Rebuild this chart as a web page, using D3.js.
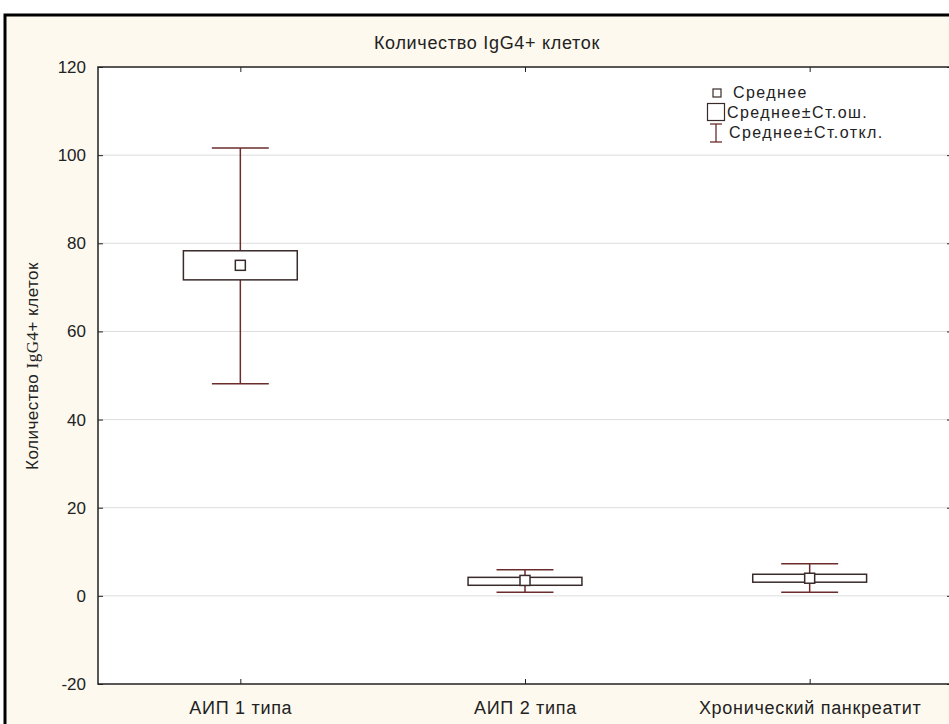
<!DOCTYPE html>
<html>
<head>
<meta charset="utf-8">
<script src="https://cdn.jsdelivr.net/npm/d3@7"></script>
<style>
  body { margin: 0; background: #fff; }
  svg { display: block; font-family: "Liberation Sans", Arial, sans-serif; }
</style>
</head>
<body>
<div id="chart"></div>
<script>
const categories = ["АИП 1 типа", "АИП 2 типа", "Хронический панкреатит"];
const means = [75.0, 3.5, 4.0];
const seLow = [71.7, 2.4, 3.1];
const seHigh = [78.3, 4.2, 4.9];
const sdLow = [48.1, 0.8, 0.8];
const sdHigh = [101.6, 5.9, 7.3];
const yTicks = [-20, 0, 20, 40, 60, 80, 100, 120];
const legendLabels = ["Среднее", "Среднее±Ст.ош.", "Среднее±Ст.откл."];

const W = 949, H = 724;
const plot = { left: 98, right: 952, top: 67, bottom: 684 };
const whiskerColor = "#6b2c2c";
const boxColor = "#3a2b2b";

const rows = categories.map((c, i) => ({
  cat: c, mean: means[i], seLo: seLow[i], seHi: seHigh[i], sdLo: sdLow[i], sdHi: sdHigh[i]
}));

const svg = d3.select("#chart").append("svg")
  .attr("width", W).attr("height", H);

// outer frame
svg.append("rect")
  .attr("x", 5).attr("y", 15)
  .attr("width", W + 10).attr("height", H + 10)
  .attr("fill", "#fdf9ee")
  .attr("stroke", "#000").attr("stroke-width", 3);

const x = d3.scalePoint().domain(categories).range([plot.left, plot.right]).padding(0.5);
const y = d3.scaleLinear().domain([-20, 120]).range([plot.bottom, plot.top]);
const step = x.step();

// plot area
svg.append("rect")
  .attr("x", plot.left).attr("y", plot.top)
  .attr("width", plot.right - plot.left).attr("height", plot.bottom - plot.top)
  .attr("fill", "#fff");

// grid
svg.append("g").selectAll("line")
  .data(yTicks.filter(t => t > -20 && t < 120))
  .join("line")
  .attr("x1", plot.left).attr("x2", plot.right)
  .attr("y1", d => y(d)).attr("y2", d => y(d))
  .attr("stroke", "#dcdcdc").attr("stroke-width", 1);

// axes (ticks inward)
const axisStyle = g => {
  g.select(".domain").remove();
  g.selectAll(".tick line").attr("stroke", "#222");
  g.selectAll(".tick text").attr("fill", "#222")
    .attr("font-family", "Liberation Sans, Arial, sans-serif");
};

svg.append("g")
  .attr("transform", `translate(${plot.left},0)`)
  .call(d3.axisLeft(y).tickValues(yTicks).tickSize(-5).tickPadding(12).tickFormat(d => String(d)))
  .call(axisStyle)
  .call(g => g.selectAll(".tick text").attr("font-size", 17));

svg.append("g")
  .attr("transform", `translate(${plot.right},0)`)
  .call(d3.axisRight(y).tickValues(yTicks).tickSize(-5).tickFormat(""))
  .call(axisStyle);

svg.append("g")
  .attr("transform", `translate(0,${plot.bottom})`)
  .call(d3.axisBottom(x).tickSize(-5).tickPadding(17))
  .call(axisStyle)
  .call(g => g.selectAll(".tick text").attr("font-size", 18).attr("letter-spacing", 0.7));

svg.append("g")
  .attr("transform", `translate(0,${plot.top})`)
  .call(d3.axisTop(x).tickSize(-5).tickFormat(""))
  .call(axisStyle);

// plot border
svg.append("rect")
  .attr("x", plot.left).attr("y", plot.top)
  .attr("width", plot.right - plot.left).attr("height", plot.bottom - plot.top)
  .attr("fill", "none").attr("stroke", "#222").attr("stroke-width", 1.5);

// whiskers, boxes, means
const marks = svg.append("g");
const g = marks.selectAll("g.item").data(rows).join("g").attr("class", "item");

g.append("line")
  .attr("x1", d => x(d.cat)).attr("x2", d => x(d.cat))
  .attr("y1", d => y(d.sdLo)).attr("y2", d => y(d.sdHi))
  .attr("stroke", whiskerColor).attr("stroke-width", 1.5);

["sdLo", "sdHi"].forEach(k => {
  g.append("line")
    .attr("x1", d => x(d.cat) - step * 0.1).attr("x2", d => x(d.cat) + step * 0.1)
    .attr("y1", d => y(d[k])).attr("y2", d => y(d[k]))
    .attr("stroke", whiskerColor).attr("stroke-width", 1.5);
});

g.append("rect")
  .attr("x", d => x(d.cat) - step * 0.2)
  .attr("width", step * 0.4)
  .attr("y", d => y(d.seHi))
  .attr("height", d => y(d.seLo) - y(d.seHi))
  .attr("fill", "#fff")
  .attr("stroke", boxColor).attr("stroke-width", 1.5);

g.append("rect")
  .attr("x", d => x(d.cat) - 5).attr("y", d => y(d.mean) - 5)
  .attr("width", 10).attr("height", 10)
  .attr("fill", "#fff")
  .attr("stroke", boxColor).attr("stroke-width", 1.5);

// title
svg.append("text")
  .attr("x", 487).attr("y", 49)
  .attr("text-anchor", "middle")
  .attr("font-size", 18).attr("letter-spacing", 0.7).attr("fill", "#222")
  .text("Количество IgG4+ клеток");

// y label
const yl = svg.append("text")
  .attr("transform", `translate(38,366) rotate(-90)`)
  .attr("text-anchor", "middle")
  .attr("font-size", 17).attr("letter-spacing", 0.5).attr("fill", "#222");
yl.append("tspan").text("Количество ");
yl.append("tspan").attr("font-family", "Liberation Serif, Times New Roman, serif").text("IgG4");
yl.append("tspan").text("+ клеток");

// legend
const lg = svg.append("g").attr("transform", "translate(716,0)");
lg.append("rect").attr("x", -3).attr("y", 89).attr("width", 8).attr("height", 8)
  .attr("fill", "#fff").attr("stroke", boxColor).attr("stroke-width", 1.2);
lg.append("rect").attr("x", -8.5).attr("y", 103.5).attr("width", 17).attr("height", 17)
  .attr("fill", "#fff").attr("stroke", boxColor).attr("stroke-width", 1.2);
lg.append("line").attr("x1", 0).attr("x2", 0).attr("y1", 124).attr("y2", 142)
  .attr("stroke", whiskerColor).attr("stroke-width", 1.3);
[124, 142].forEach(yy => lg.append("line").attr("x1", -6).attr("x2", 6)
  .attr("y1", yy).attr("y2", yy).attr("stroke", whiskerColor).attr("stroke-width", 1.3));
lg.selectAll("text.leg").data(legendLabels).join("text").attr("class", "leg")
  .attr("x", (d, i) => [17, 11, 13][i])
  .attr("y", (d, i) => 98 + i * 20)
  .attr("font-size", 16).attr("letter-spacing", 1.4).attr("fill", "#222")
  .text(d => d);
</script>
</body>
</html>
